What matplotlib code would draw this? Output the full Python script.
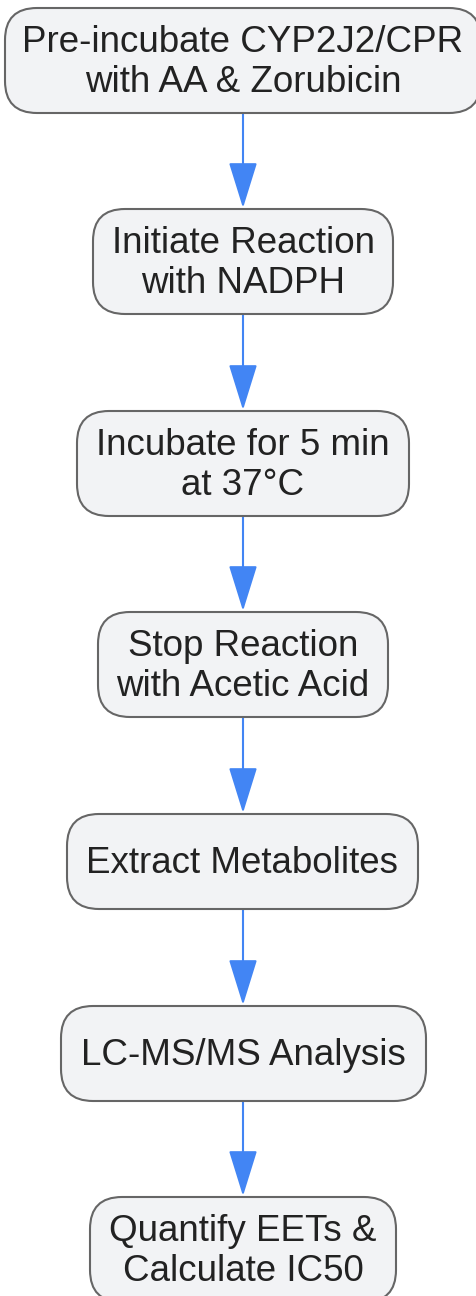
import matplotlib
matplotlib.use("Agg")
import matplotlib.pyplot as plt
from matplotlib.patches import FancyBboxPatch

plt.rcParams['font.family'] = ['Liberation Sans', 'DejaVu Sans']

# flowchart steps, top to bottom
steps = [
    "Pre-incubate CYP2J2/CPR\nwith AA & Zorubicin",
    "Initiate Reaction\nwith NADPH",
    "Incubate for 5 min\nat 37°C",
    "Stop Reaction\nwith Acetic Acid",
    "Extract Metabolites",
    "LC-MS/MS Analysis",
    "Quantify EETs &\nCalculate IC50",
]

# layout in pixel units (left, right, top, bottom)
box_left = [5, 93, 77, 98, 67, 61, 90]
box_right = [481, 393, 409, 388, 418, 426, 396]
box_top = [8, 209, 411, 612, 814, 1006, 1197]
box_bottom = [113, 314, 516, 717, 909, 1101, 1302]

W, H = 476, 1296
fig = plt.figure(figsize=(W / 100, H / 100), dpi=100)
ax = fig.add_axes([0, 0, 1, 1])
ax.set_xlim(0, W)
ax.set_ylim(H, 0)
ax.set_axis_off()

fill = "#f2f3f5"
edge = "#666666"
arrow_col = "#4285f4"

for i, label in enumerate(steps):
    l, r, t, b = box_left[i], box_right[i], box_top[i], box_bottom[i]
    patch = FancyBboxPatch((l, t), r - l, b - t,
                           boxstyle="round,pad=0,rounding_size=32",
                           facecolor=fill, edgecolor=edge, linewidth=1.5,
                           zorder=2)
    ax.add_patch(patch)
    ax.text((l + r) / 2, (t + b) / 2 + 2, label, ha="center", va="center",
            fontsize=26.5, color="#222222", linespacing=1.16, zorder=3)

for i in range(len(steps) - 1):
    xc = 243
    ax.annotate("", xy=(xc, box_top[i + 1] - 1), xytext=(xc, box_bottom[i]),
                arrowprops=dict(arrowstyle="-|>,head_length=1.45,head_width=0.45",
                                color=arrow_col, lw=1.5, mutation_scale=20,
                                shrinkA=0, shrinkB=0),
                zorder=1)

fig.savefig("out.png", dpi=100, facecolor="white")
